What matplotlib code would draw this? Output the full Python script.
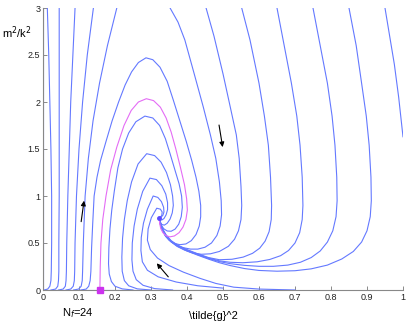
"""Flow diagram of m^2/k^2 against g~^2 for N_f = 24"""
import matplotlib
matplotlib.use("Agg")
import matplotlib.pyplot as plt

# fixed point of the flow
fixed_pt = (0.323, 0.765)

# trajectories that leave through the top on the left
left_a = [(0.003, 0.0), (0.013, 0.01), (0.019, 0.04), (0.022, 0.1), (0.023, 0.2),
          (0.024, 0.5), (0.024, 1.0), (0.022, 1.5), (0.019, 2.0), (0.016, 2.5),
          (0.012, 3.0)]
left_b = [(0.022, 0.0), (0.035, 0.01), (0.041, 0.04), (0.043, 0.1), (0.044, 0.2),
          (0.044, 0.5), (0.045, 1.0), (0.045, 1.5), (0.045, 2.0), (0.045, 2.5),
          (0.045, 3.0)]
left_c = [(0.043, 0.0), (0.056, 0.01), (0.062, 0.04), (0.064, 0.1), (0.065, 0.2),
          (0.066, 0.5), (0.069, 1.0), (0.073, 1.5), (0.077, 2.0), (0.083, 2.5),
          (0.089, 3.0)]
left_d = [(0.064, 0.0), (0.077, 0.01), (0.084, 0.04), (0.087, 0.1), (0.088, 0.2),
          (0.089, 0.5), (0.093, 1.0), (0.100, 1.5), (0.110, 2.0), (0.123, 2.5),
          (0.140, 3.0)]
left_e = [(0.085, 0.0), (0.099, 0.01), (0.106, 0.04), (0.109, 0.1), (0.110, 0.2),
          (0.112, 0.5), (0.117, 1.0), (0.126, 1.4), (0.139, 1.8), (0.157, 2.2),
          (0.179, 2.6), (0.205, 3.0)]

# trajectories that come in through the top on the right
right_1 = [(0.353, 3.0), (0.375, 2.85), (0.394, 2.66), (0.42, 2.3), (0.445, 1.95),
           (0.465, 1.65), (0.48, 1.4), (0.49, 1.15), (0.495, 0.95), (0.496, 0.8),
           (0.492, 0.68), (0.483, 0.58), (0.468, 0.5), (0.45, 0.455), (0.43, 0.435),
           (0.41, 0.435), (0.39, 0.45), (0.372, 0.475), (0.356, 0.515), (0.344, 0.565),
           (0.335, 0.62), (0.328, 0.68), (0.324, 0.73), (0.323, 0.765)]
right_2 = [(0.453, 3.0), (0.475, 2.7), (0.50, 2.3), (0.52, 1.95), (0.537, 1.65),
           (0.545, 1.4), (0.55, 1.1), (0.552, 0.9), (0.55, 0.75), (0.543, 0.63),
           (0.532, 0.54), (0.515, 0.465), (0.49, 0.41), (0.465, 0.385), (0.44, 0.38),
           (0.415, 0.395), (0.393, 0.425), (0.372, 0.465), (0.355, 0.515), (0.343, 0.57),
           (0.334, 0.63), (0.328, 0.69), (0.323, 0.765)]
right_3 = [(0.552, 3.0), (0.575, 2.66), (0.60, 2.2), (0.615, 1.85), (0.626, 1.54),
           (0.632, 1.2), (0.635, 0.9), (0.634, 0.75), (0.628, 0.62), (0.617, 0.52),
           (0.602, 0.445), (0.582, 0.39), (0.556, 0.35), (0.525, 0.327), (0.49, 0.322),
           (0.46, 0.345), (0.43, 0.385), (0.40, 0.43), (0.375, 0.475), (0.356, 0.525),
           (0.343, 0.58), (0.334, 0.64), (0.328, 0.7), (0.323, 0.765)]
right_4 = [(0.65, 3.0), (0.67, 2.6), (0.69, 2.2), (0.705, 1.85), (0.714, 1.54),
           (0.72, 1.2), (0.722, 0.9), (0.72, 0.75), (0.713, 0.61), (0.70, 0.5),
           (0.682, 0.42), (0.66, 0.365), (0.63, 0.325), (0.595, 0.3), (0.555, 0.29),
           (0.52, 0.295), (0.49, 0.31), (0.46, 0.34), (0.43, 0.38), (0.40, 0.425),
           (0.375, 0.47), (0.355, 0.52), (0.342, 0.575), (0.333, 0.635), (0.327, 0.7),
           (0.323, 0.765)]
right_5 = [(0.75, 3.0), (0.77, 2.6), (0.79, 2.2), (0.803, 1.85), (0.811, 1.54),
           (0.816, 1.2), (0.817, 0.95), (0.814, 0.78), (0.805, 0.63), (0.79, 0.51),
           (0.77, 0.415), (0.745, 0.345), (0.715, 0.295), (0.68, 0.265), (0.64, 0.252),
           (0.60, 0.252), (0.56, 0.262), (0.52, 0.28), (0.49, 0.302), (0.46, 0.335),
           (0.43, 0.375), (0.40, 0.42), (0.375, 0.468), (0.355, 0.52), (0.341, 0.575),
           (0.332, 0.635), (0.326, 0.7), (0.323, 0.765)]
right_6 = [(0.85, 3.0), (0.87, 2.6), (0.885, 2.2), (0.898, 1.85), (0.906, 1.54),
           (0.911, 1.2), (0.912, 0.95), (0.909, 0.78), (0.9, 0.63), (0.885, 0.51),
           (0.862, 0.41), (0.83, 0.33), (0.79, 0.265), (0.745, 0.225), (0.70, 0.205),
           (0.65, 0.2), (0.60, 0.208), (0.56, 0.228), (0.52, 0.26), (0.49, 0.29),
           (0.46, 0.328), (0.43, 0.37), (0.40, 0.415), (0.375, 0.462), (0.355, 0.515),
           (0.341, 0.57), (0.332, 0.63), (0.326, 0.695), (0.323, 0.765)]
right_7 = [(0.95, 3.0), (0.963, 2.7), (0.976, 2.4), (0.988, 2.05), (1.0, 1.63)]

# closed-over arcs that end in the fixed point
arc_1 = [(0.105, 0.0), (0.12, 0.01), (0.127, 0.04), (0.131, 0.1), (0.133, 0.2),
         (0.135, 0.45), (0.138, 0.7), (0.142, 1.0), (0.15, 1.2), (0.16, 1.38),
         (0.175, 1.58), (0.192, 1.8), (0.21, 2.0), (0.228, 2.18), (0.246, 2.32),
         (0.265, 2.42), (0.286, 2.47), (0.305, 2.45), (0.325, 2.37), (0.345, 2.22),
         (0.362, 2.02), (0.38, 1.8), (0.398, 1.58), (0.413, 1.38), (0.425, 1.2),
         (0.433, 1.05), (0.438, 0.9), (0.438, 0.78), (0.434, 0.68), (0.425, 0.59),
         (0.412, 0.525), (0.397, 0.49), (0.38, 0.482), (0.364, 0.497), (0.35, 0.53),
         (0.34, 0.575), (0.332, 0.63), (0.327, 0.69), (0.323, 0.765)]
arc_3 = [(0.25, 0.0), (0.22, 0.012), (0.20, 0.04), (0.19, 0.09), (0.184, 0.17),
         (0.182, 0.28), (0.183, 0.45), (0.186, 0.65), (0.191, 0.85), (0.198, 1.05),
         (0.208, 1.3), (0.221, 1.5), (0.238, 1.67), (0.258, 1.79), (0.283, 1.85),
         (0.305, 1.83), (0.324, 1.75), (0.34, 1.61), (0.353, 1.45), (0.367, 1.27),
         (0.378, 1.13), (0.385, 1.0), (0.387, 0.88), (0.384, 0.78), (0.377, 0.7),
         (0.367, 0.648), (0.356, 0.625), (0.345, 0.628), (0.336, 0.65), (0.329, 0.685),
         (0.325, 0.725), (0.323, 0.765)]
arc_4 = [(0.30, 0.0), (0.262, 0.012), (0.238, 0.045), (0.226, 0.1), (0.22, 0.2),
         (0.219, 0.35), (0.221, 0.55), (0.226, 0.75), (0.234, 0.95), (0.246, 1.15),
         (0.264, 1.34), (0.288, 1.45), (0.31, 1.43), (0.328, 1.36), (0.343, 1.25),
         (0.354, 1.12), (0.36, 1.0), (0.362, 0.9), (0.359, 0.82), (0.353, 0.755),
         (0.345, 0.71), (0.337, 0.69), (0.33, 0.697), (0.325, 0.725), (0.323, 0.765)]
arc_5 = [(0.36, 0.0), (0.31, 0.015), (0.278, 0.05), (0.259, 0.11), (0.25, 0.2),
         (0.247, 0.32), (0.248, 0.5), (0.253, 0.68), (0.262, 0.86), (0.277, 1.05),
         (0.297, 1.19), (0.315, 1.175), (0.33, 1.11), (0.341, 1.02), (0.346, 0.93),
         (0.346, 0.855), (0.342, 0.8), (0.336, 0.76), (0.33, 0.745), (0.325, 0.75),
         (0.323, 0.765)]
arc_6 = [(0.50, 0.02), (0.43, 0.045), (0.37, 0.085), (0.32, 0.14), (0.29, 0.21),
         (0.276, 0.3), (0.272, 0.42), (0.273, 0.56), (0.279, 0.71), (0.29, 0.86),
         (0.306, 1.0), (0.319, 0.985), (0.329, 0.94), (0.335, 0.88), (0.336, 0.83),
         (0.333, 0.795), (0.328, 0.775), (0.323, 0.765)]
arc_7 = [(0.70, 0.0), (0.60, 0.01), (0.53, 0.03), (0.48, 0.07), (0.436, 0.124),
         (0.39, 0.19), (0.35, 0.26), (0.318, 0.34), (0.298, 0.43), (0.29, 0.53),
         (0.292, 0.65), (0.301, 0.77), (0.316, 0.87), (0.326, 0.86), (0.331, 0.83),
         (0.33, 0.795), (0.326, 0.773), (0.323, 0.765)]

# the special trajectory (magenta) from the m=0 fixed point
magenta = [(0.158, 0.0), (0.159, 0.25), (0.161, 0.5), (0.166, 0.75), (0.175, 1.0),
           (0.188, 1.28), (0.205, 1.52), (0.225, 1.75), (0.245, 1.91), (0.265, 2.0),
           (0.287, 2.035), (0.307, 2.015), (0.326, 1.945), (0.342, 1.83), (0.356, 1.68),
           (0.369, 1.5), (0.382, 1.3), (0.393, 1.12), (0.399, 0.97), (0.401, 0.85),
           (0.397, 0.75), (0.389, 0.67), (0.378, 0.61), (0.365, 0.575), (0.352, 0.565),
           (0.341, 0.58), (0.333, 0.61), (0.327, 0.655), (0.324, 0.71), (0.323, 0.765)]
gauss_pt = (0.158, 0.0)

# invariant lines g=0 and m=0
axis_g0 = [(0.0, 0.0), (0.0, 3.0)]
axis_m0 = [(0.0, 0.0), (0.70, 0.0)]

# flow arrows (tail, head)
arrows = [((0.106, 0.727), (0.114, 0.95)),
          ((0.489, 1.755), (0.499, 1.52)),
          ((0.348, 0.14), (0.316, 0.284))]

xticks = [0, 0.1, 0.2, 0.3, 0.4, 0.5, 0.6, 0.7, 0.8, 0.9, 1]
xtick_labels = ["0", "0.1", "0.2", "0.3", "0.4", "0.5", "0.6", "0.7", "0.8", "0.9", "1"]
yticks = [0, 0.5, 1, 1.5, 2, 2.5, 3]
ytick_labels = ["0", "0.5", "1", "1.5", "2", "2.5", "3"]

blue = "#6479ff"
pink = "#e46cf5"

plt.rcParams['font.family'] = ['Liberation Sans', 'DejaVu Sans']

fig = plt.figure(figsize=(4.09, 3.27), dpi=100)
ax = fig.add_axes([43 / 409, 37 / 327, 360 / 409, 282 / 327])

blue_curves = [axis_g0, axis_m0, left_a, left_b, left_c, left_d, left_e,
               right_1, right_2, right_3, right_4, right_5, right_6, right_7,
               arc_1, arc_3, arc_4, arc_5, arc_6, arc_7]
for curve in blue_curves:
    ax.plot([p[0] for p in curve], [p[1] for p in curve], color=blue, lw=0.8,
            solid_joinstyle='round')
ax.plot([p[0] for p in magenta], [p[1] for p in magenta], color=pink, lw=0.8)
ax.plot([gauss_pt[0]], [gauss_pt[1]], 's', color="#cc33ee", ms=4, clip_on=False,
        zorder=5)
ax.plot([fixed_pt[0]], [fixed_pt[1]], 'o', color="#5a48ff", ms=2.5, zorder=5)

for tail, head in arrows:
    ax.annotate("", xy=head, xytext=tail,
                arrowprops=dict(arrowstyle="-|>", color="k", lw=0.8,
                                mutation_scale=7, shrinkA=0, shrinkB=0))

ax.set_xlim(0, 1)
ax.set_ylim(0, 3)
ax.set_xticks(xticks)
ax.set_xticklabels(xtick_labels)
ax.set_yticks(yticks)
ax.set_yticklabels(ytick_labels)
ax.tick_params(direction='in', length=3, width=0.6, colors='#777777',
               labelcolor='#222222', labelsize=6.5, pad=2)
for side in ['top', 'right']:
    ax.spines[side].set_visible(False)
for side in ['left', 'bottom']:
    ax.spines[side].set_color('#888888')
    ax.spines[side].set_linewidth(0.8)

fig.text(2 / 409, 1 - 33 / 327, "m$^2$/k$^2$", fontsize=8, va='center', ha='left')
fig.text(62 / 409, 1 - 313 / 327, "N$_f$=24", fontsize=8, va='center', ha='left')
fig.text(213 / 409, 1 - 316 / 327, "\\tilde{g}^2", fontsize=8, va='center',
         ha='center')

fig.savefig("out.png", dpi=100)
